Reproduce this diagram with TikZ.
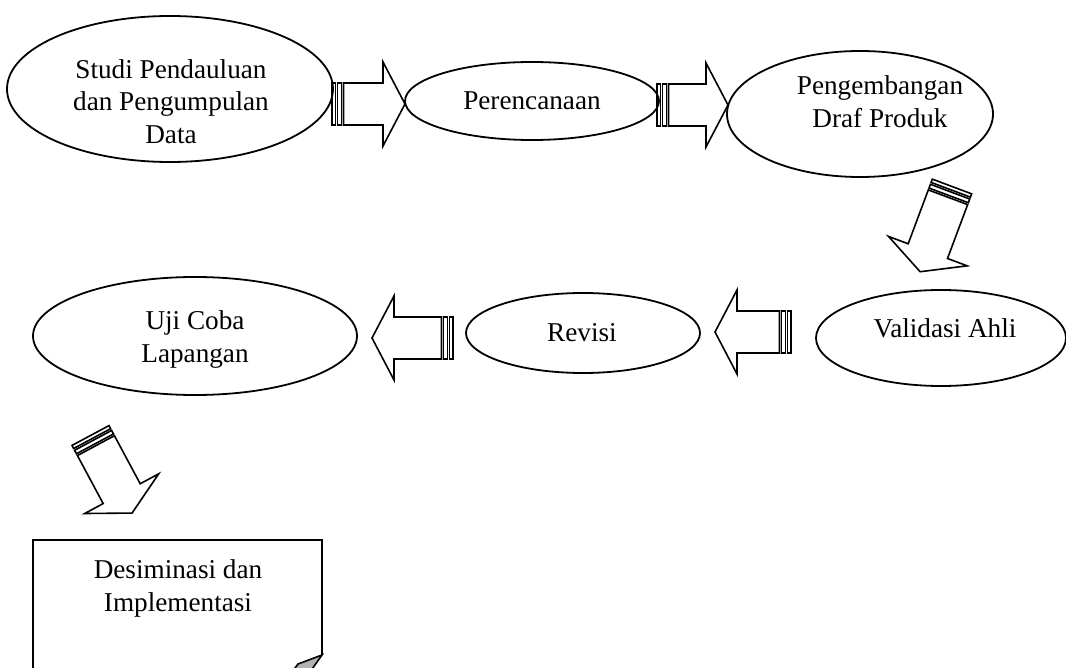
\documentclass[tikz,border=0pt]{standalone}
\usepackage{fontspec}
\setmainfont{Liberation Serif}
\usetikzlibrary{shapes.geometric}
\def\stripearrow(#1)(#2:#3){%
	\begin{scope}[shift={(#1)},rotate=#2,line width=0.8pt]
		\draw (0,-21) rectangle (3.5,21);
		\draw (5.5,-21) rectangle (9.5,21);
		\draw (11.5,-21) -- ({#3-22},-21) -- ({#3-22},-42) -- (#3,0) -- ({#3-22},42) -- ({#3-22},21) -- (11.5,21) -- cycle;
	\end{scope}}
\tikzset{
	oval/.style={draw, ellipse, line width=0.9pt, inner sep=0pt},
	lbl/.style={font=\fontsize{13.6}{16.3}\selectfont, align=center, inner sep=0pt},
}

\begin{document}
\begin{tikzpicture}[x=0.5pt, y=-0.5pt]
		%%%%% START %%%%%
		\useasboundingbox (0,0) rectangle (1066,668);
		
		\node[oval, minimum width=163pt, minimum height=73pt] (studi) at (170, 89) {};
		\node[lbl] (studitxt) at (171, 101.5) {Studi Pendauluan\\dan Pengumpulan\\Data};
		
		\node[oval, minimum width=127pt, minimum height=39pt] (rencana) at (532, 101) {};
		\node[lbl, anchor=base] (rencanatxt) at (532, 110) {Perencanaan};
		
		\node[oval, minimum width=133pt, minimum height=63pt] (draf) at (860, 114) {};
		\node[lbl] (draftxt) at (880, 101.5) {Pengembangan\\Draf Produk};
		
		\node[oval, minimum width=125pt, minimum height=48pt] (validasi) at (941, 338) {};
		\node[lbl, anchor=base] (validasitxt) at (945, 338) {Validasi Ahli};
		
		\node[oval, minimum width=117pt, minimum height=40pt] (revisi) at (583, 333) {};
		\node[lbl, anchor=base] (revisitxt) at (582, 342) {Revisi};
		
		\node[oval, minimum width=162pt, minimum height=59pt] (uji) at (195, 336) {};
		\node[lbl] (ujitxt) at (195, 339.5) {Uji Coba\\Lapangan};
		
		% striped block arrows
		\stripearrow(332,104)(0:73)
		\stripearrow(657,105)(0:71)
		\stripearrow(952,186.5)(249.5:91)
		\stripearrow(791,332)(180:76)
		\stripearrow(453,338)(180:81)
		\stripearrow(90.5,435.5)(-61.8:88)
		
		% document with folded corner
		\draw[line width=0.8pt] (33, 672) -- (33, 540) -- (322, 540) -- (322, 655);
		\draw[line width=0.8pt, fill=black!30] (322, 655) -- (298, 664) -- (292, 672) -- (310, 672) -- cycle;
		\node[lbl] (desiminasitxt) at (178, 588.5) {Desiminasi dan\\Implementasi};
		
		%%%%% END %%%%%
\end{tikzpicture}
\end{document}
